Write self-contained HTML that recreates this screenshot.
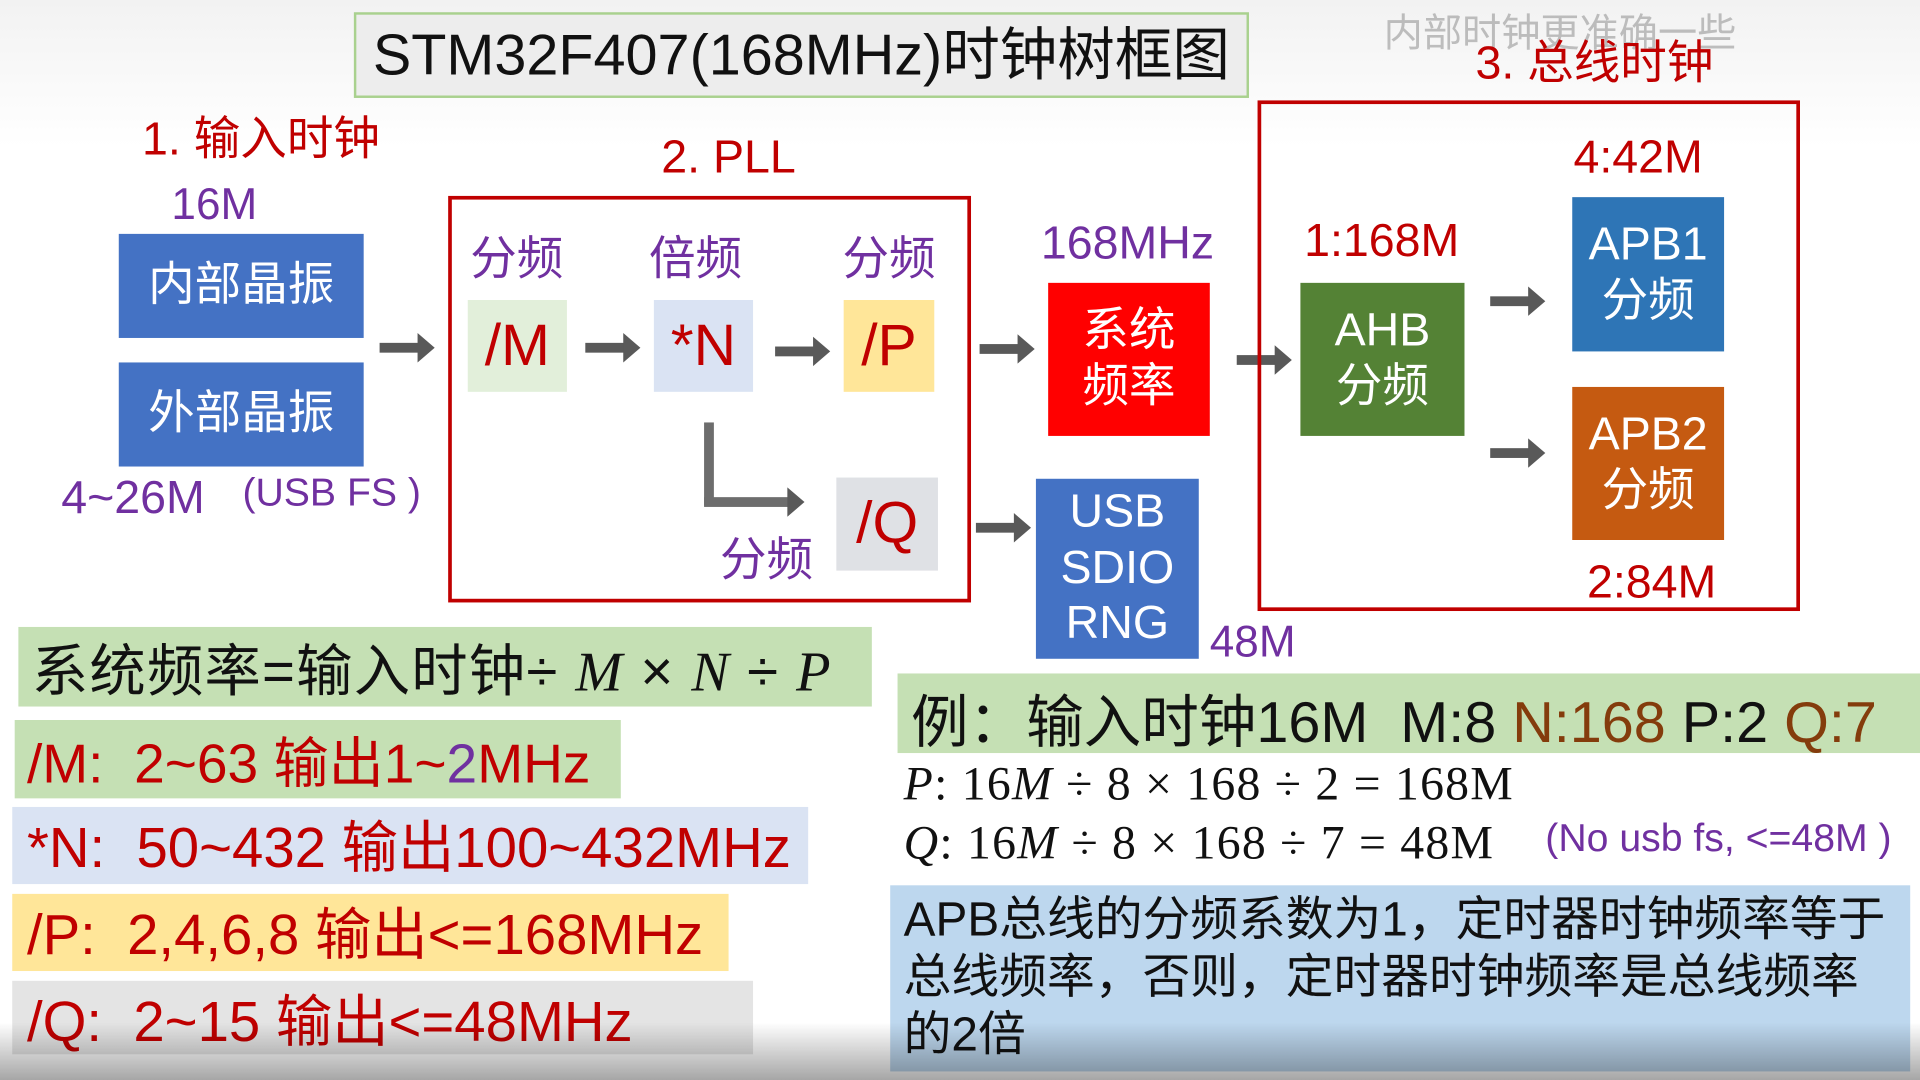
<!DOCTYPE html>
<html><head><meta charset="utf-8">
<style>
html,body{margin:0;padding:0;width:1920px;height:1080px;overflow:hidden;background:#fff;}
#w{position:absolute;left:0;top:0;width:1568px;height:882px;transform:scale(1.22449);transform-origin:0 0;background:linear-gradient(#f2f2f2,#fff 120px);font-family:"Liberation Sans","Noto Sans CJK SC",sans-serif;}
.a{position:absolute;white-space:nowrap;}
.box{position:absolute;display:flex;align-items:center;justify-content:center;text-align:center;color:#fff;line-height:1.2;}
.r{color:#c00000;}.p{color:#7030a0;}
.arr{position:absolute;height:8px;background:#595959;}
.arr:after{content:"";position:absolute;right:-12px;top:-8px;border-left:14px solid #595959;border-top:12px solid transparent;border-bottom:12px solid transparent;}
.serif{font-family:"Liberation Serif","Noto Serif CJK SC",serif;font-style:italic;}
</style></head><body><div id="w">
<div class="box" style="left:289px;top:10px;width:727px;height:66px;background:#ededed;border:2px solid #a9d18e;color:#111;font-size:47px;">STM32F407(168MHz)时钟树框图</div>
<div class="a" style="left:1130px;top:2px;font-size:32px;color:rgba(120,120,120,.45)">内部时钟更准确一些</div>
<div class="a r" style="left:1205px;top:20px;font-size:38px;">3. 总线时钟</div>
<div class="a r" style="left:116px;top:82px;font-size:38px;">1. 输入时钟</div>
<div class="a p" style="left:140px;top:146px;font-size:36px;">16M</div>
<div class="box" style="left:97px;top:191px;width:200px;height:85px;background:#4472c4;font-size:38px;">内部晶振</div>
<div class="box" style="left:97px;top:296px;width:200px;height:85px;background:#4472c4;font-size:38px;">外部晶振</div>
<div class="a p" style="left:50px;top:386px;font-size:38px;">4~26M</div>
<div class="a p" style="left:198px;top:384px;font-size:32px;">(USB FS )</div>
<div class="arr" style="left:310px;top:280px;width:33px;"></div>
<div class="a r" style="left:540px;top:108px;font-size:38px;">2. PLL</div>
<div style="position:absolute;left:366px;top:160px;width:421px;height:326px;border:3px solid #c00000;"></div>
<div class="a p" style="left:384px;top:180px;font-size:38px;">分频</div>
<div class="a p" style="left:530px;top:180px;font-size:38px;">倍频</div>
<div class="a p" style="left:688px;top:180px;font-size:38px;">分频</div>
<div class="box" style="left:382px;top:245px;width:81px;height:75px;background:#e2efda;color:#c00000;font-size:48px;">/M</div>
<div class="arr" style="left:478px;top:280px;width:33px;"></div>
<div class="box" style="left:534px;top:245px;width:81px;height:75px;background:#dae3f3;color:#c00000;font-size:48px;">*N</div>
<div class="arr" style="left:633px;top:283px;width:33px;"></div>
<div class="box" style="left:689px;top:245px;width:74px;height:75px;background:#ffe699;color:#c00000;font-size:48px;">/P</div>
<div style="position:absolute;left:575px;top:345px;width:8px;height:68px;background:#6d6d6d;"></div>
<div class="arr" style="left:575px;top:406px;width:70px;background:#6d6d6d;"></div>
<div class="box" style="left:683px;top:390px;width:83px;height:76px;background:#dfe1e5;color:#c00000;font-size:48px;">/Q</div>
<div class="a p" style="left:588px;top:426px;font-size:38px;">分频</div>
<div class="arr" style="left:800px;top:281px;width:33px;"></div>
<div class="arr" style="left:797px;top:427px;width:33px;"></div>
<div class="a p" style="left:850px;top:178px;font-size:38px;">168MHz</div>
<div class="box" style="left:856px;top:231px;width:132px;height:125px;background:#ff0000;font-size:38px;">系统<br>频率</div>
<div class="box" style="left:846px;top:391px;width:133px;height:147px;background:#4472c4;font-size:38px;">USB<br>SDIO<br>RNG</div>
<div class="a p" style="left:988px;top:503px;font-size:36px;">48M</div>
<div class="arr" style="left:1010px;top:290px;width:33px;"></div>
<div style="position:absolute;left:1027px;top:82px;width:437px;height:411px;border:3px solid #c00000;"></div>
<div class="a r" style="left:1065px;top:176px;font-size:38px;">1:168M</div>
<div class="box" style="left:1062px;top:231px;width:134px;height:125px;background:#548235;font-size:38px;">AHB<br>分频</div>
<div class="arr" style="left:1217px;top:242px;width:33px;"></div>
<div class="arr" style="left:1217px;top:366px;width:33px;"></div>
<div class="a r" style="left:1285px;top:108px;font-size:38px;">4:42M</div>
<div class="box" style="left:1284px;top:161px;width:124px;height:126px;background:#2e75b6;font-size:38px;">APB1<br>分频</div>
<div class="box" style="left:1284px;top:316px;width:124px;height:125px;background:#c55a11;font-size:38px;">APB2<br>分频</div>
<div class="a r" style="left:1296px;top:455px;font-size:38px;">2:84M</div>
<div class="a" style="left:15px;top:512px;width:697px;height:65px;background:#c5e0b4;"></div>
<div class="a" style="left:26px;top:512px;font-size:46px;color:#111;letter-spacing:1px;">系统频率=输入时钟÷ <span class="serif">M</span> × <span class="serif">N</span> ÷ <span class="serif">P</span></div>
<div class="a" style="left:12px;top:588px;width:495px;height:64px;background:#c5e0b4;"></div>
<div class="a r" style="left:22px;top:587px;font-size:45px;">/M:&nbsp; 2~63 输出1~<span class="p">2</span>MHz</div>
<div class="a" style="left:10px;top:659px;width:650px;height:63px;background:#dae3f3;"></div>
<div class="a r" style="left:22px;top:656px;font-size:46px;">*N:&nbsp; 50~432 输出100~432MHz</div>
<div class="a" style="left:10px;top:730px;width:585px;height:63px;background:#ffe699;"></div>
<div class="a r" style="left:22px;top:727px;font-size:46px;">/P:&nbsp;&nbsp;2,4,6,8 输出&lt;=168MHz</div>
<div class="a" style="left:10px;top:801px;width:605px;height:60px;background:#e4e4e4;"></div>
<div class="a r" style="left:22px;top:798px;font-size:46px;">/Q:&nbsp; 2~15 输出&lt;=48MHz</div>
<div class="a" style="left:733px;top:550px;width:835px;height:65px;background:#c5e0b4;"></div>
<div class="a" style="left:744px;top:551px;font-size:47px;color:#111;">例：输入时钟16M&nbsp; M:8 <span style="color:#843c0c">N:168</span> P:2 <span style="color:#843c0c">Q:7</span></div>
<div class="a" style="left:738px;top:618px;font-size:39px;color:#111;font-family:'Liberation Serif',serif;letter-spacing:1px;"><i>P</i>: 16<i>M</i> ÷ 8 × 168 ÷ 2 = 168M</div>
<div class="a" style="left:738px;top:666px;font-size:39px;color:#111;font-family:'Liberation Serif',serif;letter-spacing:1px;"><i>Q</i>: 16<i>M</i> ÷ 8 × 168 ÷ 7 = 48M</div>
<div class="a p" style="left:1262px;top:666px;font-size:32px;">(No usb fs, &lt;=48M )</div>
<div class="a" style="left:727px;top:723px;width:833px;height:152px;background:#bdd7ee;"></div>
<div class="a" style="left:738px;top:728px;font-size:39px;line-height:47px;color:#111;">APB总线的分频系数为1，定时器时钟频率等于<br>总线频率，否则，定时器时钟频率是总线频率<br>的2倍</div>
<div class="a" style="left:0;top:835px;width:1568px;height:47px;background:linear-gradient(rgba(0,0,0,0),rgba(0,0,0,.35));"></div>
</div></body></html>
